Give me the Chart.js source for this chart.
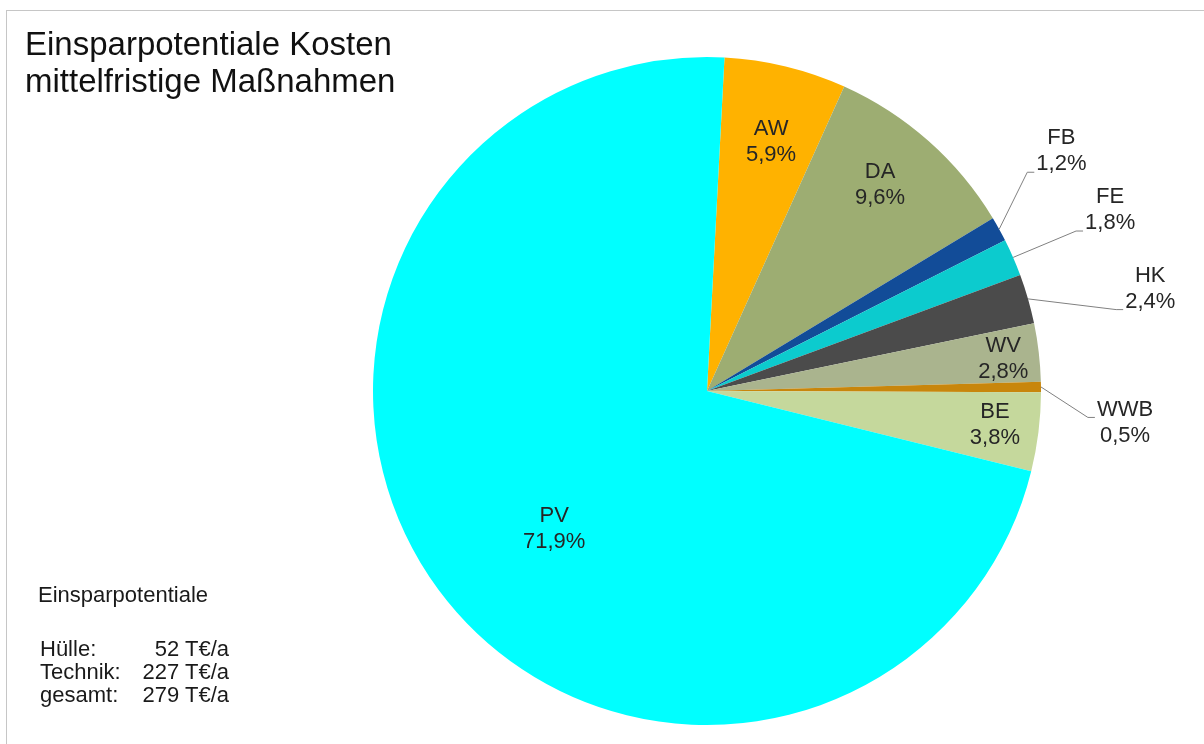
<!DOCTYPE html>
<html>
<head>
<meta charset="utf-8">
<script src="https://cdn.jsdelivr.net/npm/chart.js@4/dist/chart.umd.min.js"></script>
<style>
  html, body { margin: 0; padding: 0; background: #fff; overflow: hidden; }
  #frame { position: absolute; left: 6px; top: 10px; width: 1400px; height: 900px;
           border: 1px solid #c6c6c6; box-sizing: border-box; }
  #pie { position: absolute; left: 0; top: 0; }
  .title { position: absolute; left: 25px; top: 25px; white-space: nowrap;
           font: 33px/37px "Liberation Sans", Arial, sans-serif; color: #111; }
  .sum-head { position: absolute; left: 38px; top: 583px; white-space: nowrap;
              font: 22px/23px "Liberation Sans", Arial, sans-serif; color: #1a1a1a; }
  .sum-rows { position: absolute; left: 40px; top: 637px; width: 189px;
              font: 22px/23px "Liberation Sans", Arial, sans-serif; color: #1a1a1a; }
  .sum-row { display: flex; justify-content: space-between; white-space: nowrap; }
</style>
</head>
<body>
<div id="frame"></div>
<canvas id="pie" width="1204" height="744"></canvas>
<div class="title">Einsparpotentiale Kosten<br>mittelfristige Maßnahmen</div>
<div class="sum-head" id="sumHead"></div>
<div class="sum-rows" id="sumRows"></div>

<script>
// Cost savings per measure group, share of total (%)
const categories = ['AW', 'DA', 'FB', 'FE', 'HK', 'WV', 'WWB', 'BE', 'PV'];
const shares     = [5.9, 9.6, 1.2, 1.8, 2.4, 2.8, 0.5, 3.8, 71.9];
const sliceColors = ['#FFB200', '#9DAD72', '#124C98', '#0CCBCE', '#4B4B4B',
                     '#AAB48E', '#C8860C', '#C5D89C', '#00FFFF'];

// Savings summary (T€/a)
const summaryTitle  = 'Einsparpotentiale';
const summaryLabels = ['Hülle:', 'Technik:', 'gesamt:'];
const summaryValues = [52, 227, 279];
const summaryUnit   = 'T€/a';

// Where each slice label sits: radius factor, angular shift (deg) from the
// slice middle, and for outside labels the leader attachment (0 top .. 1 bottom)
const labelPlacement = [
  { r: 0.77,  shift:  0.8 },
  { r: 0.805, shift: -1.5 },
  { r: 1.281, shift: -5.1, leader: 1 },
  { r: 1.323, shift: -0.6, leader: 1 },
  { r: 1.362, shift:  3.0, leader: 1 },
  { r: 0.892, shift:  0.5 },
  { r: 1.255, shift:  5.0, leader: 0.38 },
  { r: 0.868, shift: -0.3 },
  { r: 0.617, shift: -5.6 }
];

const fmtPct = v => v.toFixed(1).replace('.', ',') + '%';

document.getElementById('sumHead').textContent = summaryTitle;
const rowsEl = document.getElementById('sumRows');
summaryLabels.forEach((lab, i) => {
  const row = document.createElement('div');
  row.className = 'sum-row';
  const a = document.createElement('span'); a.textContent = lab;
  const b = document.createElement('span'); b.textContent = summaryValues[i] + ' ' + summaryUnit;
  row.appendChild(a); row.appendChild(b);
  rowsEl.appendChild(row);
});

const sliceLabels = {
  id: 'sliceLabels',
  afterDatasetsDraw(chart) {
    const ctx = chart.ctx;
    const arcs = chart.getDatasetMeta(0).data;
    const lineH = 26, capH = 16;
    ctx.save();
    ctx.font = '22px "Liberation Sans", Arial, sans-serif';
    ctx.textAlign = 'center';
    ctx.textBaseline = 'middle';
    arcs.forEach((arc, i) => {
      const { x, y, startAngle, endAngle, outerRadius } =
        arc.getProps(['x', 'y', 'startAngle', 'endAngle', 'outerRadius'], true);
      const p = labelPlacement[i];
      const mid = (startAngle + endAngle) / 2;
      const a = mid + p.shift * Math.PI / 180;
      const cx = x + Math.cos(a) * outerRadius * p.r;
      const cy = y + Math.sin(a) * outerRadius * p.r;
      const lines = [categories[i], fmtPct(shares[i])];
      const ys = [cy - lineH / 2, cy + lineH / 2];
      if (p.leader !== undefined) {
        const w = Math.max(...lines.map(t => ctx.measureText(t).width));
        const left = cx - w / 2;
        const top = ys[0] - capH / 2, bottom = ys[1] + capH / 2;
        const ay = top + (bottom - top) * p.leader;
        const sx = x + Math.cos(mid) * outerRadius;
        const sy = y + Math.sin(mid) * outerRadius;
        ctx.beginPath();
        ctx.moveTo(sx, sy);
        ctx.lineTo(left - 9, ay);
        ctx.lineTo(left - 2, ay);
        ctx.strokeStyle = '#808080';
        ctx.lineWidth = 1;
        ctx.stroke();
      }
      ctx.fillStyle = '#262626';
      lines.forEach((t, k) => ctx.fillText(t, cx, ys[k]));
    });
    ctx.restore();
  }
};

new Chart(document.getElementById('pie'), {
  type: 'pie',
  data: {
    labels: categories,
    datasets: [{
      data: shares,
      backgroundColor: sliceColors,
      borderWidth: 0
    }]
  },
  options: {
    responsive: false,
    animation: false,
    devicePixelRatio: 1,
    rotation: 3,
    layout: { padding: { left: 373, right: 163, top: 57, bottom: 19 } },
    plugins: {
      legend: { display: false },
      tooltip: { enabled: false }
    }
  },
  plugins: [sliceLabels]
});
</script>
</body>
</html>
